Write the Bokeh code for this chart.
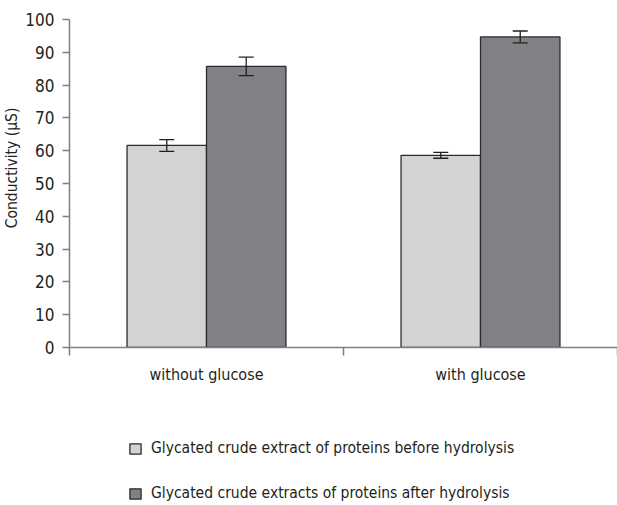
import numpy as np
from bokeh.plotting import figure
from bokeh.layouts import column
from bokeh.models import (ColumnDataSource, FixedTicker, Whisker, TeeHead,
                          Legend, LegendItem, Range1d)
from bokeh.embed import file_html
from bokeh.resources import INLINE

categories = ["without glucose", "with glucose"]
before_vals = [61.6, 58.6]
before_err = [1.8, 0.9]
after_vals = [85.7, 94.7]
after_err = [2.8, 1.8]
series_labels = ["Glycated crude extract of proteins before hydrolysis",
                 "Glycated crude extracts of proteins after hydrolysis"]
series_colors = ["#d2d3d5", "#808184"]
y_ticks = list(range(0, 101, 10))

FONT = "DejaVu Sans Condensed"
TXT = "#231f20"
AX = "#808080"
EDGE = "#2b2b2b"
BAR_W = 0.29
W = 617

centers = np.arange(len(categories)) + 0.5

p = figure(width=W, height=408, output_backend="svg", toolbar_location=None,
           x_range=Range1d(0, len(categories)), y_range=Range1d(0, 100),
           min_border_left=61, min_border_right=0, min_border_top=19,
           min_border_bottom=61)
p.outline_line_color = None
p.grid.grid_line_color = None

src_b = ColumnDataSource(dict(x=centers - BAR_W / 2, top=before_vals,
                              up=np.array(before_vals) + np.array(before_err),
                              lo=np.array(before_vals) - np.array(before_err)))
src_a = ColumnDataSource(dict(x=centers + BAR_W / 2, top=after_vals,
                              up=np.array(after_vals) + np.array(after_err),
                              lo=np.array(after_vals) - np.array(after_err)))

p.vbar(x="x", top="top", width=BAR_W, source=src_b, fill_color=series_colors[0],
       line_color=EDGE, line_width=1.3)
p.vbar(x="x", top="top", width=BAR_W, source=src_a, fill_color=series_colors[1],
       line_color=EDGE, line_width=1.3)

for src in (src_b, src_a):
    w = Whisker(base="x", upper="up", lower="lo", source=src, level="overlay",
                line_color=TXT, line_width=1.3,
                upper_head=TeeHead(size=15, line_color=TXT, line_width=1.3),
                lower_head=TeeHead(size=15, line_color=TXT, line_width=1.3))
    p.add_layout(w)

# y axis
p.yaxis.ticker = FixedTicker(ticks=y_ticks)
p.yaxis.axis_line_color = AX
p.yaxis.axis_line_width = 1.5
p.yaxis.major_tick_line_color = AX
p.yaxis.major_tick_line_width = 1.5
p.yaxis.major_tick_out = 7
p.yaxis.major_tick_in = 0
p.yaxis.minor_tick_line_color = None
p.yaxis.major_label_text_font = FONT
p.yaxis.major_label_text_font_size = "17px"
p.yaxis.major_label_text_color = TXT
p.yaxis.major_label_standoff = 8
p.yaxis.axis_label = "\u00a0" * 7 + "Conductivity (μS)"
p.yaxis.axis_label_text_font = FONT
p.yaxis.axis_label_text_font_style = "normal"
p.yaxis.axis_label_text_font_size = "15.5px"
p.yaxis.axis_label_text_color = TXT
p.yaxis.axis_label_standoff = 1

# x axis
p.xaxis.ticker = FixedTicker(ticks=list(centers),
                             minor_ticks=list(range(len(categories) + 1)))
p.xaxis.major_label_overrides = {float(c): lab for c, lab in zip(centers, categories)}
p.xaxis.axis_line_color = AX
p.xaxis.axis_line_width = 1.5
p.xaxis.major_tick_line_color = None
p.xaxis.major_tick_out = 0
p.xaxis.minor_tick_line_color = AX
p.xaxis.minor_tick_line_width = 1.5
p.xaxis.minor_tick_out = 8
p.xaxis.minor_tick_in = 0
p.xaxis.major_label_text_font = FONT
p.xaxis.major_label_text_font_size = "16px"
p.xaxis.major_label_text_color = TXT
p.xaxis.major_label_standoff = 9

# legend panel (renderers hidden; only the legend shows)
q = figure(width=W, height=94, output_backend="svg", toolbar_location=None,
           x_range=Range1d(0, len(categories)), y_range=Range1d(0, 100),
           x_axis_location=None, y_axis_location=None, min_border=0)
q.grid.grid_line_color = None
q.outline_line_color = None
items = []
for lab, col, vals in zip(series_labels, series_colors, (before_vals, after_vals)):
    r = q.vbar(x=centers, top=vals, width=BAR_W, fill_color=col,
               line_color=EDGE, line_width=1.3, visible=False)
    items.append(LegendItem(label=lab, renderers=[r]))
legend = Legend(items=items, location=(59, 0), orientation="vertical",
                border_line_color=None, background_fill_alpha=0,
                padding=0, margin=0, spacing=27,
                glyph_width=14, glyph_height=13, label_height=18,
                label_text_font=FONT, label_text_font_size="15.5px",
                label_text_color=TXT, label_standoff=9,
                inactive_fill_alpha=0)
q.add_layout(legend)

layout = column(p, q, spacing=0)
open("out.html", "w").write(file_html(layout, INLINE))
